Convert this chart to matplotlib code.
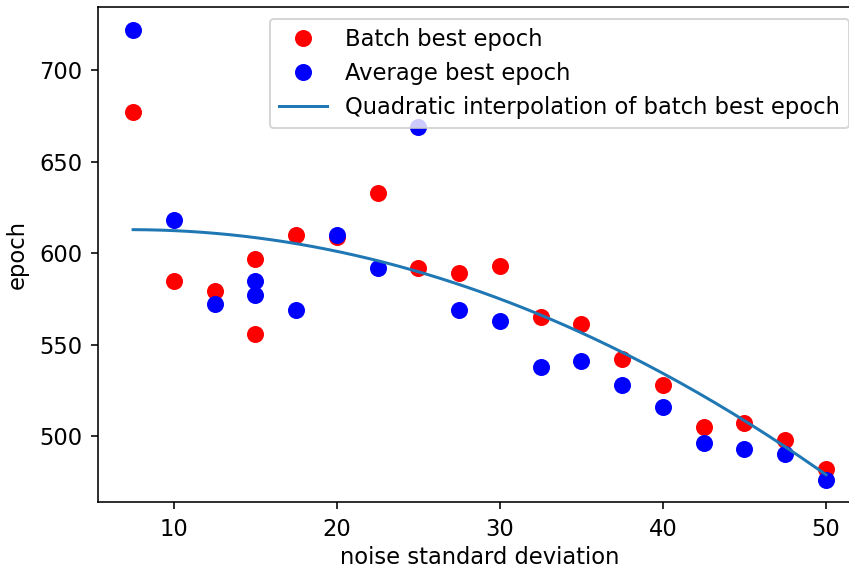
import numpy as np
import matplotlib
matplotlib.use('Agg')
import matplotlib.pyplot as plt

# noise std and best epoch values
batch_x = [7.5, 10, 12.5, 15, 15, 17.5, 20, 22.5, 25, 27.5, 30,
           32.5, 35, 37.5, 40, 42.5, 45, 47.5, 50]
batch_epoch = [677, 585, 579, 597, 556, 610, 609, 633, 592, 589, 593,
               565, 561, 542, 528, 505, 507, 498, 482]

avg_x = [7.5, 10, 12.5, 15, 15, 17.5, 20, 22.5, 25, 27.5, 30,
         32.5, 35, 37.5, 40, 42.5, 45, 47.5, 50]
avg_epoch = [722, 618, 572, 585, 577, 569, 610, 592, 669, 569, 563,
             538, 541, 528, 516, 496, 493, 490, 476]

plt.rcParams['font.size'] = 11.3
plt.rcParams['xtick.major.pad'] = 4.5
plt.rcParams['ytick.major.pad'] = 4.5

fig = plt.figure(figsize=(849 / 144, 569 / 144), dpi=144)
ax = fig.add_axes([0.116, 0.117, 0.8977, 0.870])

ax.plot(batch_x, batch_epoch, 'o', color='red', ms=7.5, label='Batch best epoch')
ax.plot(avg_x, avg_epoch, 'o', color='blue', ms=7.5, label='Average best epoch')

# quadratic fit of the batch best epoch
coef = np.polyfit(batch_x, batch_epoch, 2)
xs = np.linspace(min(batch_x), max(batch_x), 200)
ax.plot(xs, np.polyval(coef, xs), color='#1f77b4', lw=1.5,
        label='Quadratic interpolation of batch best epoch')

ax.set_xticks([10, 20, 30, 40, 50])
ax.set_yticks([500, 550, 600, 650, 700])
ax.set_xlabel('noise standard deviation', labelpad=2.5)
ax.set_ylabel('epoch', labelpad=5.5)
ax.legend(loc='upper right', handlelength=2.15)

fig.savefig('out.png', dpi=144)
